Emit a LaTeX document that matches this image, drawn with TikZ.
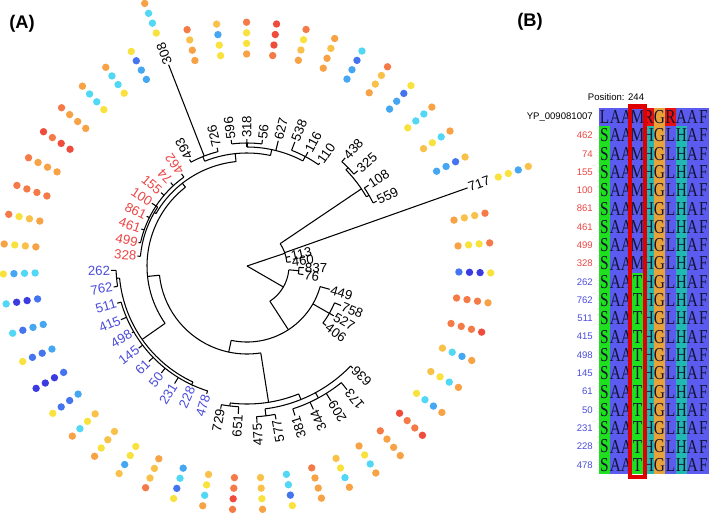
\documentclass[tikz,border=0pt]{standalone}
\usepackage{fontspec}
\setmainfont{Liberation Sans}
\newfontfamily\alnfont{Liberation Serif}
\usetikzlibrary{calc}
% dot colours
\definecolor{dR}{HTML}{F04C3C}
\definecolor{dO}{HTML}{F47B47}
\definecolor{dA}{HTML}{F7A244}
\definecolor{dL}{HTML}{F9C14A}
\definecolor{dY}{HTML}{F9E23D}
\definecolor{dC}{HTML}{52D8F5}
\definecolor{dB}{HTML}{45A6F2}
\definecolor{dD}{HTML}{4474EE}
\definecolor{dN}{HTML}{3B3BDF}
% label colours
\definecolor{labred}{HTML}{EC4444}
\definecolor{labblue}{HTML}{4B4BDB}
% alignment colours
\definecolor{alnblue}{HTML}{5B5BEF}
\definecolor{alngreen}{HTML}{1EE01E}
\definecolor{alnteal}{HTML}{20B8B0}
\definecolor{alnorange}{HTML}{E8A23A}
\definecolor{alnred}{HTML}{E81010}
\definecolor{alnink}{HTML}{141432}
\definecolor{boxred}{HTML}{E00000}
\tikzset{
  treeline/.style={line width=0.75pt,black},
  leaflabel/.style={font=\fontsize{9.4}{11}\selectfont,inner sep=0.6pt},
  rowlab/.style={font=\fontsize{6.8}{8}\selectfont,inner sep=0pt,anchor=east},
  alnchar/.style={font=\alnfont\fontsize{14}{15}\selectfont,inner sep=0pt,text=alnink},
  redbox/.style={draw=boxred,line width=2.85pt},
  panellab/.style={font=\bfseries\fontsize{13}{15}\selectfont,inner sep=0pt},
}
% radial branch: angle, r from, r to
\newcommand\tbranch[3]{\draw[treeline] (#1:#2) -- (#1:#3);}
% arc: radius, angle from, angle to
\newcommand\tarc[3]{\draw[treeline] (#2:#1) arc[start angle=#2, end angle=#3, radius=#1];}
% leaf: index, r from, tip r, label, colour
\newcommand\tleaf[5]{%
  \pgfmathsetmacro\leafang{19.5+7.06*#1}%
  \pgfmathtruncatemacro\leafflip{(\leafang>136)&&(\leafang<318.5)}%
  \draw[treeline] (\leafang:#2) -- (\leafang:#3);
  \ifnum\leafflip=1
    \node[leaflabel,text=#5,anchor=east,rotate=\leafang-180] (t#4) at (\leafang:#3) {#4};
  \else
    \node[leaflabel,text=#5,anchor=west,rotate=\leafang] (t#4) at (\leafang:#3) {#4};
  \fi}

\begin{document}
\begin{tikzpicture}[x=0.025cm,y=-0.025cm]
\useasboundingbox (0,0) rectangle (709,513);

\node[panellab] (pA) at (22,24) {(A)};
\node[panellab] (pB) at (530,22) {(B)};

% ---- circular tree ----
\begin{scope}[shift={(247,266)},y=0.025cm]
  % root
  \tbranch{18.6}{0}{40}
  \tbranch{330}{0}{42}
  % clade with 717
  \tarc{40}{5.4}{34}
  \tleaf{49}{40}{44}{460}{black}
  \tleaf{50}{40}{44}{113}{black}
  \tleaf{0}{40}{234}{717}{black}
  \tbranch{34}{40}{138}
  \tarc{138}{30.1}{44.2}
  \tbranch{30.1}{138}{141} \tarc{141}{26.6}{33.6}
  \tleaf{1}{141}{145}{559}{black}
  \tleaf{2}{141}{146}{108}{black}
  \tbranch{44.2}{138}{141} \tarc{141}{40.7}{47.7}
  \tleaf{3}{141}{146}{325}{black}
  \tleaf{4}{141}{146}{438}{black}
  % second root child
  \tarc{42}{303}{354.8}
  \tbranch{354.8}{42}{52} \tarc{52}{351.3}{358.4}
  \tleaf{47}{52}{57}{76}{black}
  \tleaf{48}{52}{57}{837}{black}
  \tbranch{303}{42}{76} \tarc{76}{258}{344.3}
  \tleaf{46}{76}{86}{449}{black}
  \tbranch{330.1}{76}{95} \tarc{95}{323}{337.2}
  \tleaf{43}{95}{99}{406}{black}
  \tleaf{44}{95}{100}{527}{black}
  \tleaf{45}{95}{102}{758}{black}
  \tbranch{258}{76}{88} \tarc{88}{186}{279}
  % bottom clade
  \tbranch{279}{88}{138} \tarc{138}{263}{292}
  \tbranch{263}{138}{141} \tarc{141}{259.5}{266.6}
  \tleaf{34}{141}{145}{729}{black}
  \tleaf{35}{141}{148}{651}{black}
  \tbranch{292}{138}{144} \tarc{144}{277.2}{316}
  \tbranch{277.2}{144}{151} \tarc{151}{273.6}{280.7}
  \tleaf{36}{151}{157}{475}{black}
  \tleaf{37}{151}{156}{577}{black}
  \tbranch{298.4}{144}{150} \tarc{150}{287.8}{309}
  \tleaf{38}{150}{157}{381}{black}
  \tleaf{39}{150}{158}{344}{black}
  \tleaf{40}{150}{159}{209}{black}
  \tleaf{41}{150}{159}{173}{black}
  \tleaf{42}{144}{147}{636}{black}
  % top, red and blue clades
  \tbranch{186}{88}{100} \tarc{100}{128}{215}
  \tbranch{128}{100}{105} \tarc{105}{96}{150}
  \tbranch{96}{105}{113} \tarc{113}{78}{112}
  \tbranch{112}{113}{118} \tarc{118}{104.2}{118.4}
  \tleaf{12}{118}{122}{726}{black}
  \tleaf{13}{118}{216}{308}{black}
  \tleaf{14}{118}{121}{493}{black}
  \tbranch{78}{113}{119} \tarc{119}{62}{90}
  \tbranch{90}{119}{123} \tarc{123}{83}{97.1}
  \tleaf{9}{123}{127}{56}{black}
  \tleaf{10}{123}{127}{318}{black}
  \tleaf{11}{123}{127}{596}{black}
  \tleaf{8}{119}{129}{627}{black}
  \tbranch{62}{119}{124} \tarc{124}{54.8}{68.9}
  \tleaf{5}{124}{126}{110}{black}
  \tleaf{6}{124}{129}{116}{black}
  \tleaf{7}{124}{133}{538}{black}
  % red clade
  \tbranch{150}{105}{107} \tarc{107}{146.6}{174.8}
  \tbranch{146.6}{107}{109} \tarc{109}{125.4}{167.8}
  \tleaf{15}{109}{113}{462}{labred}
  \tleaf{16}{109}{113}{74}{labred}
  \tleaf{17}{109}{113}{155}{labred}
  \tleaf{18}{109}{114}{100}{labred}
  \tleaf{19}{109}{112}{861}{labred}
  \tleaf{20}{109}{112}{461}{labred}
  \tleaf{21}{109}{111}{499}{labred}
  \tleaf{22}{107}{110}{328}{labred}
  % blue clade
  \tbranch{215}{100}{128} \tarc{128}{185.4}{245}
  \tbranch{185.4}{128}{131} \tarc{131}{181.9}{188.9}
  \tleaf{23}{131}{136}{262}{labblue}
  \tleaf{24}{131}{135}{762}{labblue}
  \tbranch{245}{128}{131} \tarc{131}{196}{252.5}
  \tleaf{25}{131}{135}{511}{labblue}
  \tleaf{26}{131}{137}{415}{labblue}
  \tleaf{27}{131}{133}{498}{labblue}
  \tleaf{28}{131}{136}{145}{labblue}
  \tleaf{29}{131}{137}{61}{labblue}
  \tleaf{30}{131}{137}{50}{labblue}
  \tleaf{31}{131}{138}{231}{labblue}
  \tleaf{32}{131}{132}{228}{labblue}
  \tleaf{33}{131}{134}{478}{labblue}

  % ring of dots, inner to outer
  \foreach \rb/\ka/\kb/\kc/\kd [count=\i from 0] in {
    266.6/dY/dY/dB/dL, 212/dB/dB/dD/dL, 212/dL/dY/dC/dA, 212/dY/dC/dC/dA,
    212/dB/dB/dD/dY, 212/dA/dL/dL/dO, 212/dB/dB/dD/dC, 212/dA/dA/dL/dA,
    212/dA/dL/dY/dO, 212/dO/dR/dR/dR, 212/dA/dY/dY/dO, 212/dY/dY/dB/dL,
    212/dA/dA/dL/dO, 250/dY/dC/dC/dA, 212/dB/dB/dD/dY, 212/dY/dC/dC/dA,
    212/dY/dC/dC/dA, 212/dA/dA/dA/dO, 212/dR/dR/dO/dR, 212/dA/dA/dA/dO,
    212/dO/dO/dO/dO, 212/dA/dL/dY/dO, 212/dA/dL/dY/dA, 212/dC/dC/dB/dY,
    212/dD/dN/dN/dC, 212/dB/dB/dD/dC, 212/dB/dD/dD/dY, 212/dD/dN/dN/dN,
    212/dB/dD/dD/dY, 212/dL/dY/dC/dA, 212/dL/dL/dY/dA, 212/dY/dY/dB/dL,
    212/dA/dL/dL/dO, 212/dB/dC/dD/dY, 212/dL/dY/dC/dA, 212/dO/dO/dR/dO,
    212/dL/dL/dY/dA, 212/dC/dC/dD/dY, 212/dO/dA/dA/dA, 212/dL/dY/dC/dA,
    212/dA/dY/dC/dA, 212/dO/dA/dA/dA, 212/dR/dO/dO/dR, 212/dY/dC/dB/dA,
    212/dL/dY/dC/dA, 212/dL/dC/dB/dA, 212/dO/dO/dO/dR, 212/dO/dO/dO/dA,
    212/dD/dN/dN/dY, 212/dA/dY/dY/dO, 212/dA/dL/dL/dO} {
    \pgfmathsetmacro\dotang{19.5+7.06*\i}
    \foreach \dcol [count=\j from 0] in {\ka,\kb,\kc,\kd} {
      \pgfmathsetmacro\dotr{\rb+10.6*\j}
      \fill[fill=\dcol] (\dotang:\dotr) circle[radius=3.7];
    }
  }
\end{scope}

% ---- alignment ----
\fill[alnblue] (599,108) rectangle (709,474);
\fill[alngreen] (599,126.3) rectangle (610,474);
\fill[alngreen] (632,272.7) rectangle (643,474);
\fill[alnteal] (643,126.3) rectangle (654,474);
\fill[alnteal] (676,126.3) rectangle (687,474);
\fill[alnorange] (654,108) rectangle (665,474);
\fill[alnred] (643,108) rectangle (654,126.3);
\fill[alnred] (665,108) rectangle (676,126.3);

\foreach \lab/\lc [count=\k from 0] in {YP\_009081007/black, 462/labred,
    74/labred, 155/labred, 100/labred, 861/labred, 461/labred, 499/labred,
    328/labred, 262/labblue, 762/labblue, 511/labblue, 415/labblue,
    498/labblue, 145/labblue, 61/labblue, 50/labblue, 231/labblue,
    228/labblue, 478/labblue} {
  \pgfmathsetmacro\yc{108+18.3*(\k+0.5)}
  \node[rowlab,text=\lc] (row\k) at (593,\yc) {\lab};
  \ifnum\k=0 \def\seq{L,A,A,M,R,G,R,A,A,F}%
  \else\ifnum\k<9 \def\seq{S,A,A,M,H,G,L,H,A,F}%
  \else \def\seq{S,A,A,T,H,G,L,H,A,F}\fi\fi
  \foreach \ch [count=\ci] in \seq {
    \node[alnchar] (a\k-\ci) at ({599+11*\ci-5.5},\yc) {\scalebox{0.78}[1]{\ch}};
  }
}
\draw[redbox] (629.7,106.5) rectangle (645.3,477);
\node[rowlab,anchor=center] (pos) at (616,97) {Position: 244};
\end{tikzpicture}
\end{document}
